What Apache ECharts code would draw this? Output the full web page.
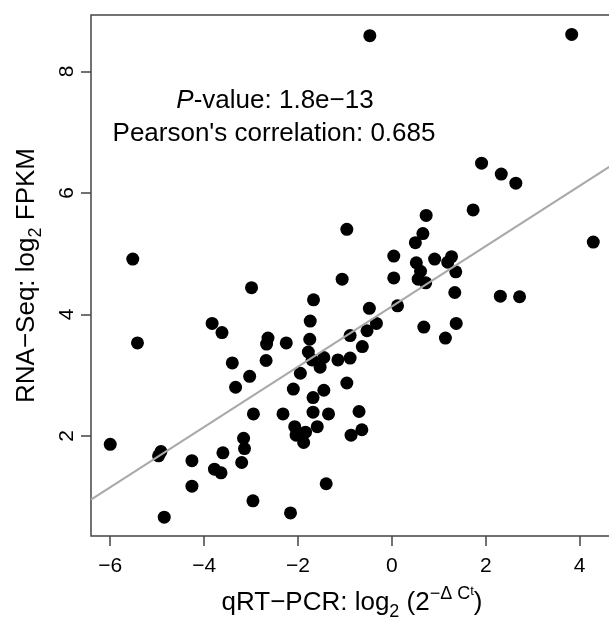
<!DOCTYPE html>
<html>
<head>
<meta charset="utf-8">
<script src="https://cdn.jsdelivr.net/npm/echarts@6/dist/echarts.min.js"></script>
<style>html,body{margin:0;padding:0;background:#fff}#c{width:609px;height:619px}</style>
</head>
<body>
<div id="c"></div>
<script>
// qRT-PCR values (x) and RNA-Seq values (y)
var qpcr = [-0.47, 3.83, -5.52, -0.96, 0.04, -1.06, 0.04, 1.91, 2.33, 2.64,
  1.73, 0.73, 0.66, 0.50, 4.29, 0.52, 0.91, 1.27, 1.19, 1.36,
  0.61, 0.56, 0.72, 1.34, 2.31, 2.72, 0.12, 0.68, 1.37, 1.14,
  -2.99, -1.67, -0.48, -1.74, -0.33, -0.53, -0.89, -2.64, -2.67, -2.25,
  -1.75, -0.63, -1.78, -3.40, -2.68, -1.70, -1.45, -1.53, -1.15, -0.89,
  -3.03, -1.95, -3.33, -2.10, -1.45, -0.96, -1.68, -5.42, -3.83, -3.62,
  -6.00, -4.92, -4.97, -4.26, -3.60, -3.78, -3.64, -4.26, -4.85, -2.95,
  -2.32, -1.68, -1.35, -0.70, -0.64, -0.87, -1.59, -2.07, -2.04, -1.84,
  -1.88, -3.16, -3.14, -3.20, -1.40, -2.96, -2.16];
var rnaseq = [8.59, 8.61, 4.91, 5.40, 4.96, 4.58, 4.60, 6.49, 6.31, 6.16,
  5.72, 5.63, 5.33, 5.18, 5.19, 4.85, 4.91, 4.95, 4.86, 4.70,
  4.71, 4.58, 4.52, 4.36, 4.30, 4.29, 4.14, 3.79, 3.85, 3.61,
  4.44, 4.24, 4.10, 3.89, 3.85, 3.73, 3.65, 3.61, 3.51, 3.53,
  3.59, 3.47, 3.38, 3.20, 3.24, 3.25, 3.29, 3.13, 3.25, 3.28,
  2.98, 3.03, 2.80, 2.77, 2.75, 2.87, 2.63, 3.53, 3.85, 3.70,
  1.86, 1.74, 1.67, 1.59, 1.72, 1.45, 1.39, 1.17, 0.66, 2.36,
  2.36, 2.39, 2.36, 2.40, 2.10, 2.01, 2.15, 2.15, 2.01, 2.06,
  1.89, 1.96, 1.79, 1.56, 1.21, 0.93, 0.73];
// fitted line end points
var fitX = [-6.41, 4.71];
var fitY = [0.95, 6.47];
// tick values
var xTicks = [-6, -4, -2, 0, 2, 4];
var yTicks = [2, 4, 6, 8];
var pText = ['1.8e\u221213'];
var corrText = ['0.685'];

var FONT = "'Liberation Sans', Arial, Helvetica, sans-serif";
var pts = qpcr.map(function (x, i) { return [x, rnaseq[i]]; });
var fit = fitX.map(function (x, i) { return [x, fitY[i]]; });
function fmt(v) { return String(v).replace('-', '\u2212'); }

var chart = echarts.init(document.getElementById('c'), null, {renderer: 'canvas'});
chart.setOption({
  animation: false,
  backgroundColor: '#fff',
  grid: {left: 91, top: 15, width: 522, height: 521, show: true,
    containLabel: false, outerBoundsMode: 'none',
    borderColor: '#444', borderWidth: 1.5, backgroundColor: 'transparent'},
  xAxis: {
    type: 'value', min: -6.41, max: 4.71,
    splitLine: {show: false},
    axisLine: {show: false, onZero: false},
    axisTick: {show: true, customValues: xTicks, length: 10, lineStyle: {color: '#444', width: 1.5}},
    axisLabel: {customValues: xTicks, formatter: fmt, fontSize: 21, color: '#000', fontFamily: FONT, margin: 20},
    name: '{a|qRT\u2212PCR: log}{s|2}{a| (2}{sp|\u2212\u0394 C}{ss|t}{a|)}',
    nameLocation: 'middle', nameGap: 49,
    nameTextStyle: {
      fontFamily: FONT, color: '#000',
      rich: {
        a: {fontSize: 26, fontFamily: FONT, color: '#000', lineHeight: 36},
        s: {fontSize: 18, fontFamily: FONT, color: '#000', lineHeight: 14, verticalAlign: 'bottom'},
        sp: {fontSize: 18, fontFamily: FONT, color: '#000', lineHeight: 16, verticalAlign: 'top'},
        ss: {fontSize: 13, fontFamily: FONT, color: '#000', lineHeight: 29, verticalAlign: 'top'}
      }
    }
  },
  yAxis: {
    type: 'value', min: 0.35, max: 8.93,
    splitLine: {show: false},
    axisLine: {show: false, onZero: false},
    axisTick: {show: true, customValues: yTicks, length: 10, lineStyle: {color: '#444', width: 1.5}},
    axisLabel: {customValues: yTicks, formatter: fmt, rotate: 90, fontSize: 21, color: '#000', fontFamily: FONT, margin: 13},
    name: '{a|RNA\u2212Seq: log}{s|2}{a| FPKM}',
    nameLocation: 'middle', nameGap: 46, nameRotate: 90,
    nameTextStyle: {
      fontFamily: FONT, color: '#000',
      rich: {
        a: {fontSize: 26, fontFamily: FONT, color: '#000', lineHeight: 36},
        s: {fontSize: 18, fontFamily: FONT, color: '#000', lineHeight: 14, verticalAlign: 'bottom'}
      }
    }
  },
  graphic: [
    {type: 'text', x: 275, y: 101, z: 10, style: {
      text: '{i|P}{n|-value: ' + pText[0] + '}',
      align: 'center', verticalAlign: 'middle',
      rich: {
        i: {fontSize: 26, fontStyle: 'italic', fontFamily: FONT, fill: '#000'},
        n: {fontSize: 26, fontFamily: FONT, fill: '#000'}
      }
    }},
    {type: 'text', x: 274, y: 134, z: 10, style: {
      text: "Pearson's correlation: " + corrText[0],
      align: 'center', verticalAlign: 'middle',
      fontSize: 26, fontFamily: FONT, fill: '#000'
    }}
  ],
  series: [
    {type: 'scatter', data: pts, symbol: 'circle', symbolSize: 13,
      itemStyle: {color: '#000', opacity: 1}, z: 2, silent: true},
    {type: 'line', data: fit, symbol: 'none', z: 3, silent: true,
      lineStyle: {color: '#a9a9a9', width: 2}}
  ]
});
</script>
</body>
</html>
